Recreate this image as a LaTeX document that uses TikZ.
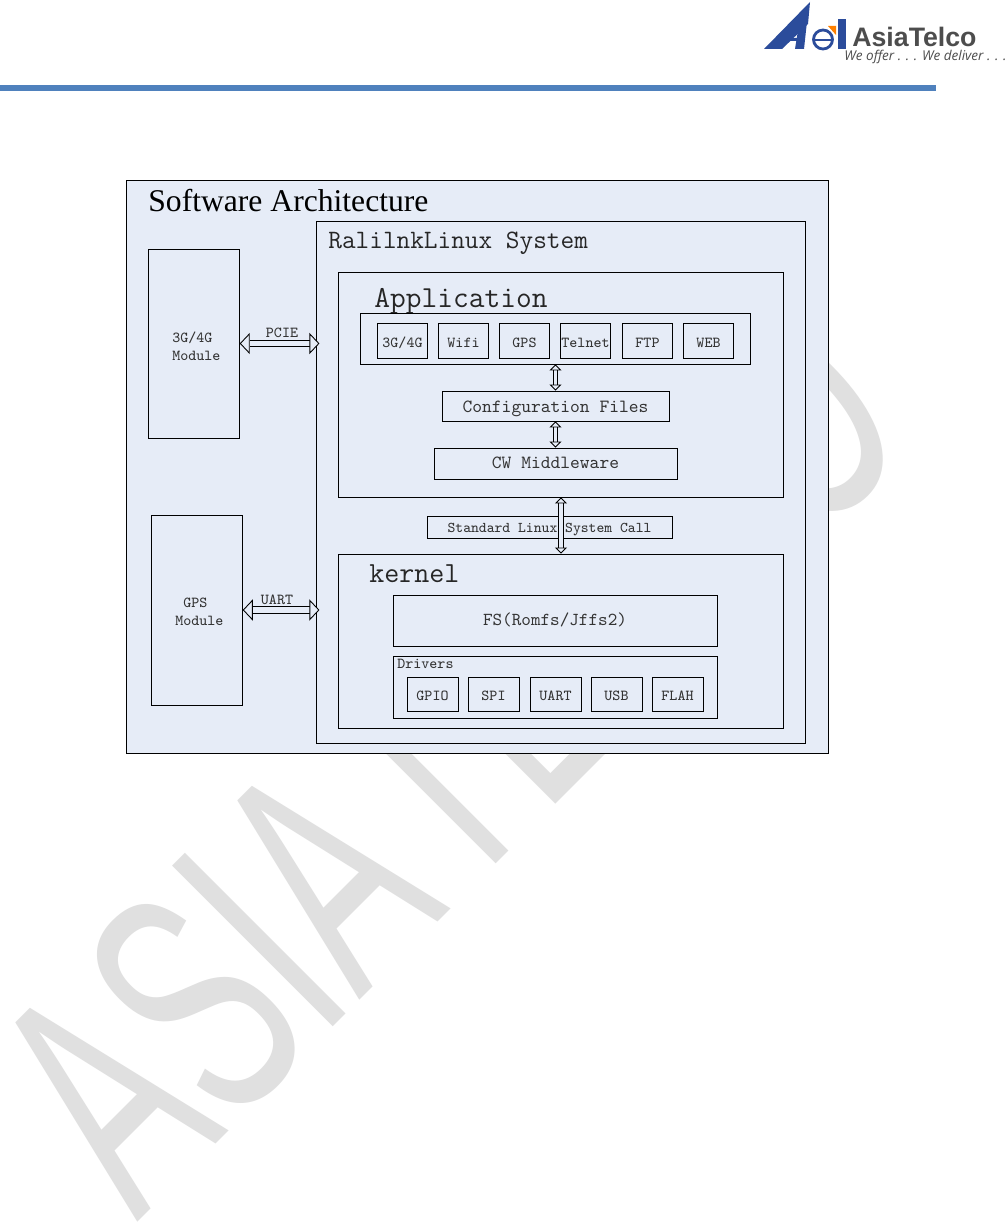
\documentclass[tikz,border=0pt]{standalone}
\usepackage{fontspec}
\setmainfont{Liberation Serif}
\newfontfamily\wmfont{Liberation Sans}
\newfontfamily\logofont{Open Sans}
\usetikzlibrary{arrows.meta,positioning,calc}
\definecolor{panel}{HTML}{E6ECF7}
\definecolor{rule}{HTML}{4F81BD}
\definecolor{water}{HTML}{E0E0E0}
\definecolor{logoblue}{HTML}{2B4C9B}
\definecolor{logogray}{HTML}{4D4D4D}
\tikzset{box/.style={draw=black,fill=panel,line width=0.5pt,inner sep=0pt,align=center,text=black!80,text height=7.6pt,text depth=0pt,font=\ttfamily\fontsize{8.7}{10}\selectfont},title/.style={anchor=west,inner sep=0pt,text=black!85,font=\ttfamily\fontsize{15.1}{17}\selectfont},lab/.style={inner sep=0pt,align=left,text=black!80,font=\ttfamily\fontsize{8.7}{10.4}\selectfont},bigarrow/.style={double=panel,double distance=3pt,line width=0.5pt,{Triangle[fill=panel,length=5.7pt,width=12pt]}-{Triangle[fill=panel,length=5.7pt,width=12pt]}},smallarrow/.style={double=panel,double distance=2.2pt,line width=0.5pt,{Triangle[fill=panel,length=3.4pt,width=6.8pt]}-{Triangle[fill=panel,length=3.4pt,width=6.8pt]}}}

\begin{document}
\begin{tikzpicture}[x=0.02cm,y=-0.02cm]
\useasboundingbox (0,0) rectangle (1006,1222);
\fill[white] (0,0) rectangle (1006,1222);
\begin{scope}
\clip (0,0) rectangle (1006,1222);
\node[rotate=45,xscale=.59,transform shape,anchor=base west,inner sep=0pt,text=water,font=\wmfont\fontsize{188}{188}\selectfont] (mark) at (137,1223) {ASIA\hspace{-40pt} TELCO};
\end{scope}
% header
\fill[rule] (0,85.5) rectangle (936,91);
\fill[logoblue] (764,49)--(810,2)--(808,24)--(782,49)--cycle;
\fill[logoblue] (808,12)--(804,49)--(795,49)--(799,24)--cycle;
\fill[logoblue] (786,38)--(800,38)--(800,41)--(783,41)--cycle;
\draw[logoblue,line width=1.6pt] (823,39.5) circle[radius=0.19cm];
\fill[logoblue] (814,39) rectangle (833,41);
\fill[orange] (828,26)--(836,26)--(836,35)--cycle;
\fill[logoblue] (838,19) rectangle (846,49);
\node[anchor=west,inner sep=0pt,text=logogray,font=\wmfont\bfseries\fontsize{15.2}{17}\selectfont] (asia) at (852,37) {AsiaTelco};
\node[anchor=west,inner sep=0pt,text=logogray,font=\logofont\itshape\fontsize{7.7}{8}\selectfont] (offer) at (844,57) {We offer . . . We deliver . . .};
% panels
\node[box,minimum width=14.04cm,minimum height=11.46cm] (soft) at (477.3,466.8) {};
\node[anchor=west,inner sep=0pt,font=\fontsize{18}{20}\selectfont] (softt) at (148,201) {Software Architecture};
\node[box,minimum width=9.78cm,minimum height=10.44cm] (sys) at (560.8,482.3) {};
\node[title] (syst) at (328,243) {RalilnkLinux System};
\node[box,minimum width=8.9cm,minimum height=4.5cm] (app) at (560.5,384.5) {};
\node[title,font=\ttfamily\fontsize{17.4}{19}\selectfont] (appt) at (374,301) {Application};
\node[box,minimum width=7.8cm,minimum height=1.02cm] (bar) at (555.5,338.5) {};
\foreach \x/\n/\t in {402.5/a1/3G\slash 4G,463.5/a2/Wifi,524.5/a3/GPS,585.5/a4/Telnet,647.5/a5/FTP,708.5/a6/WEB}
  \node[box,minimum width=1.01cm,minimum height=0.7cm] (\n) at (\x,340.5) {\t};
\node[box,minimum width=4.54cm,minimum height=0.6cm,text height=7.3pt,font=\ttfamily\fontsize{10.6}{12}\selectfont] (conf) at (555.5,406) {Configuration Files};
\node[box,minimum width=4.86cm,minimum height=0.62cm,text height=5.4pt,font=\ttfamily\fontsize{10.6}{12}\selectfont] (mid) at (555.5,463.5) {CW Middleware};
\node[box,minimum width=4.9cm,minimum height=0.44cm,text height=6pt,font=\ttfamily\fontsize{8.5}{10}\selectfont] (call) at (549.5,527) {Standard Linux System Call};
\node[box,minimum width=8.9cm,minimum height=3.48cm] (kern) at (560.5,641) {};
\node[title,font=\ttfamily\fontsize{16.6}{19}\selectfont] (kernt) at (369,574) {kernel};
\node[box,minimum width=6.48cm,minimum height=1.02cm,text height=4.6pt,font=\ttfamily\fontsize{10.4}{12}\selectfont] (fs) at (555,621) {FS(Romfs/Jffs2)};
\node[box,minimum width=6.48cm,minimum height=1.24cm] (drv) at (555,687.5) {};
\node[lab,anchor=west] (drvt) at (397,664) {Drivers};
\foreach \x/\n/\t in {432.5/d1/GPIO,493.5/d2/SPI,555.5/d3/UART,616.5/d4/USB,677.5/d5/FLAH}
  \node[box,minimum width=1.02cm,minimum height=0.68cm] (\n) at (\x,694) {\t};
% modules
\node[box,minimum width=1.82cm,minimum height=3.78cm] (m3g) at (193.8,343.5) {};
\node[lab,anchor=west] (m3gt) at (172,346) {3G\slash 4G\\Module};
\node[box,minimum width=1.82cm,minimum height=3.8cm] (mgps) at (196.8,610) {};
\node[lab,anchor=west] (mgpst) at (175,612) {~GPS\\Module};
% connectors
\draw[bigarrow,shorten >=-2pt] (m3g.east)--(m3g.east -| sys.west);
\node[lab] (pcie) at (282,333) {PCIE};
\draw[bigarrow,shorten >=-2pt] (mgps.east)--(mgps.east -| sys.west);
\node[lab] (uart) at (277,600) {UART};
\draw[smallarrow] (bar.south -| 555.5,0)--(conf.north);
\draw[smallarrow] (conf.south)--(mid.north);
\draw[smallarrow] (app.south -| 561,0)--(kern.north -| 561,0);
\end{tikzpicture}
\end{document}
